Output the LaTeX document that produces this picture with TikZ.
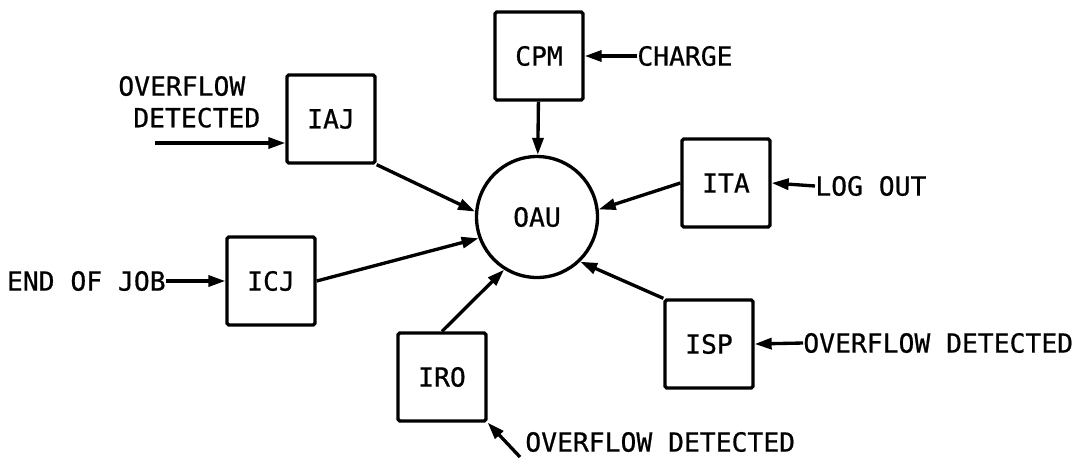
\documentclass[tikz,border=0pt]{standalone}
\usepackage{fontspec}
\newfontfamily\lettering{DejaVu Sans Mono}[FakeBold=0.7]
\usetikzlibrary{arrows.meta,calc,positioning}
\tikzset{
  unit/.style={draw,line width=1.9pt,rounded corners=1pt,minimum size=1.76cm,inner sep=0pt,font=\lettering\fontsize{15}{18}\selectfont},
  hub/.style={draw,circle,line width=1.9pt,minimum size=2.42cm,inner sep=0pt,font=\lettering\fontsize{15}{18}\selectfont},
  lbl/.style={font=\lettering\fontsize{15}{18}\selectfont,inner sep=0pt},
  feed/.style={line width=1.9pt,-{Triangle[length=3.4mm,width=2.2mm]}},
}

\begin{document}
\begin{tikzpicture}[x=0.02cm,y=-0.02cm]
    \useasboundingbox (0,0) rectangle (1081,457);
    % ---- the hub and its units ----
    \node[hub] (oau) at (537,217) {OAU};
    \node[unit] (cpm) at (539,56) {CPM};
    \node[unit] (iaj) at (331,119) {IAJ};
    \node[unit] (ita) at (726,183) {ITA};
    \node[unit] (icj) at (271,281) {ICJ};
    \node[unit] (isp) at (709,344) {ISP};
    \node[unit] (iro) at (442,377) {IRO};
    % ---- outside events ----
    \node[lbl,anchor=west] (charge) at (637,56) {CHARGE};
    \node[lbl,anchor=west] (logout) at (815,186) {LOG OUT};
    \node[lbl,anchor=east] (eoj) at (166,281) {END OF JOB};
    \node[lbl,anchor=west] (ovfc) at (803,343) {OVERFLOW DETECTED};
    \node[lbl,align=left,anchor=south west] (ovfa) at (118,128) {OVERFLOW\\ \hspace*{0.3cm}DETECTED};
    \node[lbl,anchor=west] (ovfb) at (525,442) {OVERFLOW DETECTED};
    \coordinate (ovfa-tail) at (155,143);
    \coordinate (ovfb-tail) at (520,457);
    % ---- inputs to the units ----
    \draw[feed] (charge.west) -- (cpm.east);
    \draw[feed] (logout.west) -- (ita.east);
    \draw[feed] (eoj.east) -- (icj.west);
    \draw[feed] (ovfc.west) -- (isp.east);
    \draw[feed] (ovfa-tail) -- (ovfa-tail -| iaj.west);
    \draw[feed] (ovfb-tail) -- (iro.south east);
    % ---- units report to the hub ----
    \draw[feed] (cpm) -- (oau);
    \draw[feed] (iaj.south east) -- (oau.175);
    \draw[feed] (ita.west) -- (oau.7);
    \draw[feed] (icj.east) -- (oau.200);
    \draw[feed] (iro.north) -- (oau.238);
    \draw[feed] (isp.north west) -- (oau.-46);
  \end{tikzpicture}
\end{document}
